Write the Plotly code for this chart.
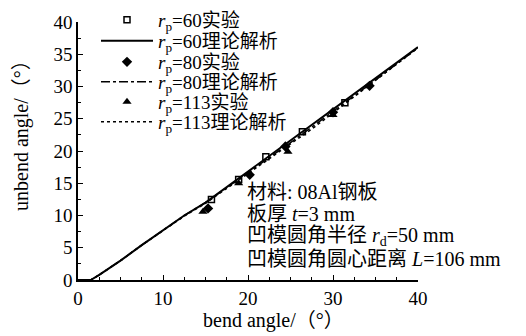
import plotly.graph_objects as go

# Theoretical curves
theory_x = [0, 1.5, 2.5, 5, 7.5, 10, 12.5, 15, 17.5, 20, 22.5, 25, 27.5, 30, 32.5, 35, 37.5, 40]
theory_r60 = [0, 0, 0.8, 3.0, 5.4, 7.7, 10.0, 12.0, 14.4, 16.8, 19.2, 21.6, 24.0, 26.4, 28.8, 31.2, 33.7, 36.1]
theory_r80 = [0, 0, 0.8, 3.0, 5.4, 7.7, 10.0, 12.0, 14.3, 16.6, 18.9, 21.3, 23.7, 26.1, 28.6, 31.0, 33.5, 36.0]
theory_r113 = [0, 0, 0.8, 3.0, 5.4, 7.7, 9.9, 11.9, 14.2, 16.4, 18.7, 21.0, 23.4, 25.9, 28.4, 30.9, 33.4, 36.0]

# Experimental points
exp60_x = [15.7, 18.9, 22.1, 26.4, 31.4]
exp60_y = [12.5, 15.6, 19.1, 23.0, 27.5]
exp80_x = [15.3, 20.2, 24.4, 30.0, 34.3]
exp80_y = [11.1, 16.3, 20.7, 26.0, 30.1]
exp113_x = [14.7, 18.9, 24.7, 30.0]
exp113_y = [10.6, 15.0, 19.9, 25.6]

tick_vals_x = [0, 10, 20, 30, 40]
tick_vals_y = [0, 5, 10, 15, 20, 25, 30, 35, 40]

info_lines = [
    "材料: 08Al钢板",
    "板厚 <i>t</i>=3 mm",
    "凹模圆角半径 <i>r</i><sub>d</sub>=50 mm",
    "凹模圆角圆心距离 <i>L</i>=106 mm",
]

FONT = "Liberation Serif, Noto Sans CJK SC, serif"
rp = "<i>r</i><sub>p</sub>"

# plot area geometry (px)
L, R, T, B = 78, 108, 22, 56
W, H = 526, 336
PW, PH = W - L - R, H - T - B


def px_x(px):
    return (px - L) / PW


def px_y(py):
    return (H - B - py) / PH


fig = go.Figure()
traces = [
    go.Scatter(x=exp60_x, y=exp60_y, mode="markers", name=rp + "=60实验",
               marker=dict(symbol="square-open", size=6, color="black", line=dict(width=1.5, color="black"))),
    go.Scatter(x=theory_x, y=theory_r60, mode="lines", name=rp + "=60理论解析",
               line=dict(color="black", width=2, dash="solid")),
    go.Scatter(x=exp80_x, y=exp80_y, mode="markers", name=rp + "=80实验",
               marker=dict(symbol="diamond", size=8, color="black")),
    go.Scatter(x=theory_x, y=theory_r80, mode="lines", name=rp + "=80理论解析",
               line=dict(color="black", width=1.5, dash="dashdot")),
    go.Scatter(x=exp113_x, y=exp113_y, mode="markers", name=rp + "=113实验",
               marker=dict(symbol="triangle-up", size=8, color="black")),
    go.Scatter(x=theory_x, y=theory_r113, mode="lines", name=rp + "=113理论解析",
               line=dict(color="black", width=1.5, dash="dot")),
]
legend_rows_px = [20, 41, 62, 82, 102, 122]
layout_legends = {}
for i, (tr, ry) in enumerate(zip(traces, legend_rows_px)):
    key = "legend" if i == 0 else f"legend{i + 1}"
    tr.legend = key
    fig.add_trace(tr)
    layout_legends[key] = dict(
        x=px_x(96), y=px_y(ry), xanchor="left", yanchor="middle",
        bgcolor="rgba(0,0,0,0)", borderwidth=0,
        font=dict(family=FONT, size=19, color="black"),
        itemwidth=52,
    )

info_rows_px = [192, 214, 236, 259]
for txt, ry in zip(info_lines, info_rows_px):
    fig.add_annotation(
        xref="paper", yref="paper", x=px_x(245), y=px_y(ry), xanchor="left", yanchor="middle",
        align="left", showarrow=False, text=txt,
        font=dict(family=FONT, size=20, color="black"),
    )

# axis titles
fig.add_annotation(xref="paper", yref="paper", x=px_x(273), y=px_y(320), xanchor="center", yanchor="middle",
                   showarrow=False, text="bend angle/（°）",
                   font=dict(family=FONT, size=20, color="black"))
fig.add_annotation(xref="paper", yref="paper", x=px_x(21), y=px_y(131), xanchor="center", yanchor="middle",
                   showarrow=False, text="unbend angle/（°）", textangle=-90,
                   font=dict(family=FONT, size=20, color="black"))

axis_common = dict(
    showline=True, linecolor="black", linewidth=1.5, mirror=False,
    showgrid=False, zeroline=False, automargin=False,
    ticks="inside", ticklen=5, tickwidth=1, tickcolor="black",
    tickfont=dict(family="Liberation Serif", size=19, color="black"),
    minor=dict(ticks="inside", ticklen=3, tickwidth=1, tickcolor="black", dtick=2.5),
)

fig.update_xaxes(range=[0, 40], tickvals=tick_vals_x, **axis_common)
fig.update_yaxes(range=[0, 40], tickvals=tick_vals_y, **axis_common)

fig.update_layout(
    width=W, height=H,
    margin=dict(l=L, r=R, t=T, b=B, autoexpand=False),
    paper_bgcolor="white", plot_bgcolor="white",
    font=dict(family=FONT, color="black"),
    showlegend=True,
    **layout_legends,
)

fig.write_html("out.html", config={"displayModeBar": False},
               post_script="document.body.style.margin='0';document.body.style.padding='0';")
